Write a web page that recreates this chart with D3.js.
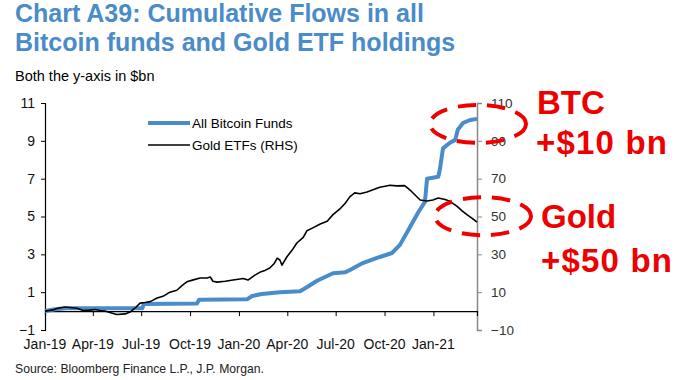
<!DOCTYPE html>
<html><head><meta charset="utf-8">
<script src="https://cdn.jsdelivr.net/npm/d3@7"></script>
<style>
html,body{margin:0;padding:0;background:#fff;}
svg{display:block;}
text{font-family:"Liberation Sans",Arial,sans-serif;}
</style></head>
<body>
<svg id="chart" width="680" height="380"></svg>
<script>
// ---- data ----
const xTickLabels = ["Jan-19","Apr-19","Jul-19","Oct-19","Jan-20","Apr-20","Jul-20","Oct-20","Jan-21"];
const xTickDates = ["2019-01-01","2019-04-01","2019-07-01","2019-10-01","2020-01-01","2020-04-01","2020-07-01","2020-10-01","2021-01-01"];
const leftTicks = [-1,1,3,5,7,9,11];
const rightTicks = [-10,10,30,50,70,90,110];

const btcDates = ["2019-01-01","2019-01-20","2019-02-11","2019-07-03","2019-07-06","2019-10-14","2019-10-18","2020-01-16","2020-01-26","2020-02-13","2020-03-18","2020-04-25","2020-05-10","2020-05-27","2020-06-26","2020-07-19","2020-07-28","2020-08-21","2020-09-22","2020-10-15","2020-10-30","2020-11-18","2020-12-03","2020-12-16","2020-12-20","2021-01-10","2021-01-13","2021-01-19","2021-02-01","2021-02-11","2021-02-16","2021-02-26","2021-03-11","2021-03-24"];
const btcValues = [0.0,0.1,0.15,0.15,0.37,0.4,0.6,0.62,0.8,0.9,1.0,1.05,1.3,1.6,2.0,2.05,2.17,2.54,2.86,3.07,3.5,4.44,5.2,5.77,7.0,7.1,7.46,8.6,8.9,9.05,9.6,9.95,10.1,10.16];

const goldDates = ["2019-01-01","2019-01-14","2019-01-25","2019-02-08","2019-02-21","2019-03-02","2019-03-14","2019-03-27","2019-04-05","2019-04-15","2019-04-24","2019-05-03","2019-05-16","2019-06-01","2019-06-10","2019-06-19","2019-06-29","2019-07-08","2019-07-18","2019-07-31","2019-08-11","2019-08-24","2019-09-06","2019-09-18","2019-09-25","2019-10-07","2019-10-20","2019-11-02","2019-11-08","2019-11-13","2019-11-21","2019-12-06","2019-12-21","2020-01-09","2020-01-18","2020-01-31","2020-02-10","2020-02-19","2020-02-28","2020-03-07","2020-03-13","2020-03-18","2020-03-22","2020-03-31","2020-04-12","2020-04-19","2020-05-01","2020-05-08","2020-05-19","2020-06-02","2020-06-15","2020-06-26","2020-07-09","2020-07-19","2020-07-28","2020-08-06","2020-08-16","2020-08-29","2020-09-13","2020-09-22","2020-10-02","2020-10-11","2020-10-24","2020-11-08","2020-11-18","2020-11-27","2020-12-07","2020-12-20","2020-12-31","2021-01-10","2021-01-23","2021-02-01","2021-02-14","2021-02-24","2021-03-05","2021-03-15","2021-03-24"];
const goldValues = [0,0.5,1.5,2.2,1.8,1.5,0.3,0.5,0.8,0.3,0,-0.8,-1.8,-1.5,-0.5,1.5,4.2,4.5,5.0,6.9,7.8,10,11,14,15.5,16.5,17.5,17.5,18,15.8,15.3,15.8,16.4,17.2,16.4,19,20.6,21.5,22.8,25,28,27,24.3,28.6,33,36,39,42.5,44,46,47.5,51,54,57,60.5,62.5,62,63,64.5,65.5,66,66.5,66.2,66.3,64,61.5,58.7,58.2,58.7,59.8,59,58,55.5,53,51,49,47];

const seriesNames = ["All Bitcoin Funds","Gold ETFs (RHS)"];
const annotations = [["BTC","+$10 bn"],["Gold","+$50 bn"]];

// ---- drawing ----
const parse = d3.timeParse("%Y-%m-%d");
const svg = d3.select("#chart");
const blue = "#4a8bc9", red = "#ee0000";

const x = d3.scaleTime().domain([parse("2019-01-01"), parse("2021-03-24")]).range([45, 477]);
const yL = d3.scaleLinear().domain([-1, 11]).range([330, 103]);
const yR = d3.scaleLinear().domain([-10, 110]).range([330, 103]);

// titles
svg.append("text").attr("x",15).attr("y",22).attr("fill",blue).attr("font-weight","bold").attr("font-size",25).text("Chart A39: Cumulative Flows in all");
svg.append("text").attr("x",15).attr("y",51).attr("fill",blue).attr("font-weight","bold").attr("font-size",25).text("Bitcoin funds and Gold ETF holdings");
svg.append("text").attr("x",15).attr("y",81).attr("fill","#000").attr("font-size",14.5).text("Both the y-axis in $bn");
svg.append("text").attr("x",15).attr("y",373).attr("fill","#222").attr("font-size",12.2).text("Source: Bloomberg Finance L.P., J.P. Morgan.");

// left axis
const gL = svg.append("g").attr("transform","translate(45,0)")
  .call(d3.axisLeft(yL).tickValues(leftTicks).tickSize(4).tickPadding(6).tickFormat(d3.format("d")));
gL.select(".domain").attr("stroke","#000").attr("stroke-width",1.2);
gL.selectAll("text").attr("font-size",14).attr("fill","#111").attr("font-family","Liberation Sans, Arial, sans-serif");

// right axis
const gR = svg.append("g").attr("transform","translate(477,0)")
  .call(d3.axisRight(yR).tickValues(rightTicks).tickSize(5).tickPadding(9).tickFormat(d3.format("d")));
gR.select(".domain").attr("stroke","#888").attr("stroke-width",1.5);
gR.selectAll(".tick line").attr("stroke","#888");
gR.selectAll("text").attr("font-size",13.5).attr("fill","#333").attr("font-family","Liberation Sans, Arial, sans-serif");

// x axis at zero
const gX = svg.append("g").attr("transform",`translate(0,${yL(0)})`)
  .call(d3.axisBottom(x).tickValues(xTickDates.map(parse)).tickSize(5).tickFormat(""));
gX.select(".domain").attr("stroke","#000").attr("stroke-width",1.2);
svg.append("g").selectAll("text").data(xTickDates).join("text")
  .attr("x", d => x(parse(d))).attr("y", 349).attr("text-anchor","middle")
  .attr("font-size",14).attr("fill","#111").text((d,i) => xTickLabels[i]);

// lines
const btc = btcDates.map((d,i)=>({date:parse(d), v:btcValues[i]}));
const gold = goldDates.map((d,i)=>({date:parse(d), v:goldValues[i]}));
svg.append("path").datum(btc).attr("fill","none").attr("stroke",blue).attr("stroke-width",4)
  .attr("stroke-linejoin","round")
  .attr("d", d3.line().x(d=>x(d.date)).y(d=>yL(d.v)));
svg.append("path").datum(gold).attr("fill","none").attr("stroke","#000").attr("stroke-width",1.6)
  .attr("stroke-linejoin","round")
  .attr("d", d3.line().x(d=>x(d.date)).y(d=>yR(d.v)));

// legend
const leg = svg.append("g");
leg.append("line").attr("x1",148).attr("x2",190).attr("y1",123).attr("y2",123).attr("stroke",blue).attr("stroke-width",4);
leg.append("text").attr("x",192).attr("y",128).attr("font-size",13.5).text(seriesNames[0]);
leg.append("line").attr("x1",148).attr("x2",190).attr("y1",145).attr("y2",145).attr("stroke","#000").attr("stroke-width",1.6);
leg.append("text").attr("x",192).attr("y",150).attr("font-size",13.5).text(seriesNames[1]);

// annotation ellipses
const lastB = btc[btc.length-1], lastG = gold[gold.length-1];
svg.append("ellipse").attr("cx",x(lastB.date)+1).attr("cy",yL(lastB.v)+5).attr("rx",48).attr("ry",19)
  .attr("fill","none").attr("stroke",red).attr("stroke-width",4).attr("stroke-dasharray","18,11");
svg.append("ellipse").attr("cx",x(lastG.date)+6).attr("cy",yR(lastG.v)-6).attr("rx",48).attr("ry",19)
  .attr("fill","none").attr("stroke",red).attr("stroke-width",4).attr("stroke-dasharray","18,11");

// annotation text
const ann = svg.append("g").attr("fill",red).attr("font-weight","bold").attr("font-size",33)
  .style("font-family","'Open Sans', 'Noto Sans', sans-serif");
ann.append("text").attr("x",537).attr("y",114).text(annotations[0][0]);
ann.append("text").attr("x",536).attr("y",154).attr("letter-spacing",1.2).text(annotations[0][1]);
ann.append("text").attr("x",541).attr("y",228).text(annotations[1][0]);
ann.append("text").attr("x",541).attr("y",272).attr("letter-spacing",1.2).text(annotations[1][1]);
</script>
</body></html>
